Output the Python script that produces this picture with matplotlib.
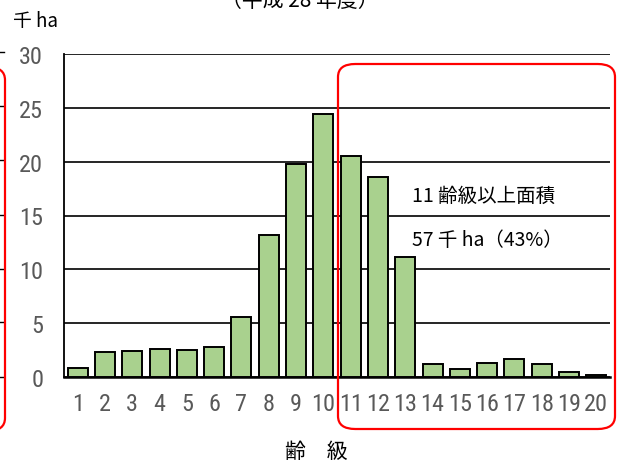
import matplotlib
matplotlib.use("Agg")
import matplotlib.pyplot as plt
from matplotlib import font_manager
from matplotlib.patches import FancyBboxPatch
from matplotlib.lines import Line2D

# Data
age_classes = [str(i) for i in range(1, 21)]
areas = [0.8, 2.3, 2.4, 2.6, 2.55, 2.75, 5.6, 13.2, 19.8, 24.4,
         20.5, 18.6, 11.1, 1.2, 0.7, 1.3, 1.65, 1.25, 0.5, 0.15]
yticks = [0, 5, 10, 15, 20, 25, 30]
title = "（平成 28 年度）"
unit_label = "千 ha"
xlabel = "齢　級"
note1 = "11 齢級以上面積"
note2 = "57 千 ha（43%）"

# pick an upright, regular-weight narrow font for the numbers if one is installed
def _weight(w):
    if isinstance(w, str):
        return {'normal': 400, 'regular': 400, 'book': 400}.get(w.lower(), 0)
    return w

narrow = None
entries = [f for f in font_manager.fontManager.ttflist
           if f.style == 'normal' and _weight(f.weight) == 400]
for pref in ['Liberation Sans Narrow', 'Roboto Condensed', 'Open Sans Condensed']:
    cands = [f for f in entries if f.name == pref]
    if cands:
        narrow = font_manager.FontProperties(fname=cands[0].fname)
        break
if narrow is None:
    for f in entries:
        low = f.fname.lower()
        if ('condensed' in low or 'narrow' in low) and 'serif' not in low and 'mono' not in low:
            narrow = font_manager.FontProperties(fname=f.fname)
            break
if narrow is None:
    narrow = font_manager.FontProperties(family='Roboto')

W, H = 617, 464
fig = plt.figure(figsize=(W / 100, H / 100), dpi=100)

def fx(px):
    return px / W

def fy(py):
    return 1 - py / H

cjk = ['Noto Sans CJK JP', 'DejaVu Sans']

num_prop = narrow.copy()
num_prop.set_size(17.5)

ax = fig.add_axes([fx(64), fy(378), fx(610) - fx(64), fy(55) - fy(378)])
x = list(range(len(age_classes)))
ax.bar(x, areas, width=0.73, color='#A9D18E', edgecolor='black', linewidth=1.4, zorder=3)
ax.set_xlim(-0.5, len(age_classes) - 0.5)
ax.set_ylim(0, 30)
ax.set_yticks(yticks)
ax.set_yticklabels([str(v) for v in yticks], fontproperties=num_prop, color='#595959')
ax.set_xticks(x)
ax.set_xticklabels(age_classes, fontproperties=num_prop, color='#595959')
ax.tick_params(axis='x', length=0, pad=11)
ax.tick_params(axis='y', length=0, pad=15)
for s in ['top', 'right']:
    ax.spines[s].set_visible(False)
ax.spines['left'].set_linewidth(1.3)
ax.spines['bottom'].set_linewidth(1.8)
ax.yaxis.grid(True, color='black', linewidth=1.2, zorder=0)
ax.set_axisbelow(True)

# Unit label, axis label, title
fig.text(fx(13), fy(21), unit_label, family=cjk, fontsize=13.5, ha='left', va='center')
fig.text(fx(316), fy(452), xlabel, family=cjk, fontsize=15, ha='center', va='center')
fig.text(fx(300), fy(1), title, family=cjk, fontsize=15, ha='center', va='center')

# Annotation box
box = FancyBboxPatch((fx(338), fy(430)), fx(615) - fx(338), fy(65) - fy(430),
                     boxstyle="round,pad=0,rounding_size=0.028", transform=fig.transFigure,
                     fill=False, edgecolor='#FF0000', linewidth=1.6, zorder=10)
fig.patches.append(box)
fig.text(fx(412), fy(196), note1, family=cjk, fontsize=14, ha='left', va='center')
fig.text(fx(412), fy(240), note2, family=cjk, fontsize=14, ha='left', va='center')

# Fragments of neighbouring chart at the left edge
box2 = FancyBboxPatch((fx(-300), fy(432)), fx(5) - fx(-300), fy(68) - fy(432),
                      boxstyle="round,pad=0,rounding_size=0.028", transform=fig.transFigure,
                      fill=False, edgecolor='#FF0000', linewidth=1.6, zorder=10)
fig.patches.append(box2)
for py in [53, 107, 161, 216, 270, 323, 378]:
    fig.lines.append(Line2D([fx(0), fx(4)], [fy(py), fy(py)], transform=fig.transFigure,
                            color='black', linewidth=1.0))
fig.text(fx(-5), fy(405), "0", fontproperties=num_prop, color='#595959',
         ha='center', va='center')

fig.savefig("out.png", dpi=100)
